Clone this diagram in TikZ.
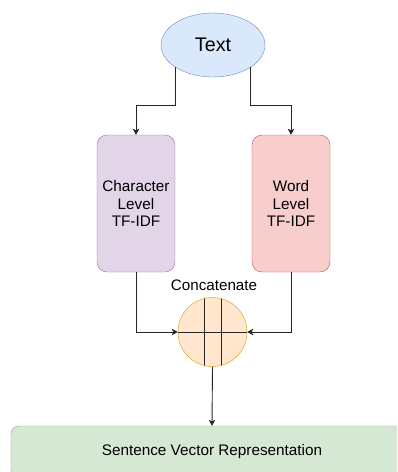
\documentclass[tikz,border=0pt]{standalone}
\usepackage{fontspec}
\setmainfont{Liberation Sans}
\usetikzlibrary{positioning, shapes.geometric, arrows.meta}

\definecolor{textfill}{HTML}{DAE8FC}
\definecolor{textline}{HTML}{6C8EBF}
\definecolor{charfill}{HTML}{E1D5E7}
\definecolor{charline}{HTML}{9673A6}
\definecolor{wordfill}{HTML}{F8CECC}
\definecolor{wordline}{HTML}{B85450}
\definecolor{catfill}{HTML}{FFE6CC}
\definecolor{catline}{HTML}{D79B00}
\definecolor{sentfill}{HTML}{D5E8D4}
\definecolor{sentline}{HTML}{82B366}

\tikzset{
  level/.style={draw, rounded corners=10pt, minimum width=78pt, minimum height=137pt,
    align=center, font=\fontsize{15.3}{17.6}\selectfont},
  link/.style={->, line width=0.9pt, black!85}
}

\begin{document}
\begin{tikzpicture}[>={Stealth[length=6pt, width=6.5pt, inset=1.5pt]}, x=1pt, y=-1pt]
  \clip (0,0) rectangle (397,472);
  \node (text) at (213,45) [ellipse, draw=textline, fill=textfill, minimum width=104pt,
    minimum height=64pt, font=\fontsize{19.7}{22}\selectfont] {Text};
  \node (char) at (136,203.5) [level, draw=charline, fill=charfill] {Character\\Level\\TF-IDF};
  \node (word) at (291,203.5) [level, draw=wordline, fill=wordfill] {Word\\Level\\TF-IDF};
  \node (concat) at (212.5,332) [circle, draw=catline, fill=catfill, minimum size=69pt, inner sep=0pt] {};
  \node (catlabel) at (214,285) [font=\fontsize{15.2}{17}\selectfont] {Concatenate};
  \node (sent) at (212,452) [draw=sentline, fill=sentfill, rounded corners=8pt, minimum width=402pt,
    minimum height=52pt, font=\fontsize{15.3}{17.6}\selectfont] {Sentence Vector Representation};
  % lines inside the concatenate circle
  \begin{scope}
    \clip (212.5,332) circle [radius=34.5];
    \draw [line width=0.9pt, black!85] (204,290) -- (204,375);
    \draw [line width=0.9pt, black!85] (221,290) -- (221,375);
    \draw [line width=0.9pt, black!85] (170,332) -- (255,332);
  \end{scope}
  % connectors
  \draw [link] (text.211) -- ++(0,38) -| (char.north);
  \draw [link] (text.329) -- ++(0,38) -| (word.north);
  \draw [link] (char.south) |- (concat.west);
  \draw [link] (word.south) |- (concat.east);
  \draw [link] (concat.south) -- (sent.north);
\end{tikzpicture}
\end{document}
